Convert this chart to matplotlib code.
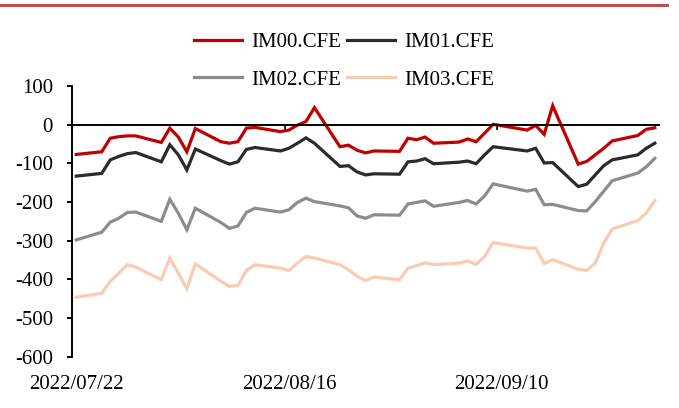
import numpy as np
import pandas as pd
import matplotlib
matplotlib.use("Agg")
import matplotlib.pyplot as plt
from matplotlib.lines import Line2D

plt.rcParams["font.family"] = ["Liberation Serif", "DejaVu Serif"]
plt.rcParams["axes.unicode_minus"] = False

# trading days, 2022/07/22 - 2022/09/28
dates = ["2022-07-22", "2022-07-25", "2022-07-26", "2022-07-27", "2022-07-28", "2022-07-29",
         "2022-08-01", "2022-08-02", "2022-08-03", "2022-08-04", "2022-08-05",
         "2022-08-08", "2022-08-09", "2022-08-10", "2022-08-11", "2022-08-12",
         "2022-08-15", "2022-08-16", "2022-08-17", "2022-08-18", "2022-08-19",
         "2022-08-22", "2022-08-23", "2022-08-24", "2022-08-25", "2022-08-26",
         "2022-08-29", "2022-08-30", "2022-08-31", "2022-09-01", "2022-09-02",
         "2022-09-05", "2022-09-06", "2022-09-07", "2022-09-08", "2022-09-09",
         "2022-09-13", "2022-09-14", "2022-09-15", "2022-09-16",
         "2022-09-19", "2022-09-20", "2022-09-21", "2022-09-22", "2022-09-23",
         "2022-09-26", "2022-09-27", "2022-09-28"]

im00 = [-77, -70, -35, -31, -29, -29, -46, -9, -32, -70, -10, -44, -48, -44, -9, -7,
        -18, -14, -1, 8, 44, -57, -53, -66, -73, -68, -69, -35, -39, -32, -48,
        -45, -37, -44, -22, 1, -14, -2, -25, 49, -102, -95, -78, -61, -42, -28, -12, -8]
im01 = [-133, -126, -91, -82, -75, -72, -96, -52, -78, -117, -63, -93, -102, -96, -64, -59,
        -68, -61, -48, -34, -48, -108, -106, -122, -130, -127, -128, -96, -94, -88, -101,
        -97, -94, -101, -78, -57, -68, -61, -99, -98, -160, -154, -130, -106, -91, -78, -61, -48]
im02 = [-298, -278, -252, -242, -227, -226, -250, -193, -229, -272, -216, -253, -268, -262, -227, -216,
        -226, -220, -201, -190, -199, -210, -215, -236, -242, -233, -234, -205, -201, -197, -211,
        -201, -196, -205, -184, -153, -172, -167, -207, -206, -222, -223, -199, -172, -145, -125, -109, -87]
im03 = [-446, -436, -405, -384, -362, -368, -401, -345, -384, -424, -360, -405, -418, -416, -377, -362,
        -371, -377, -358, -341, -345, -362, -375, -392, -403, -394, -401, -371, -365, -357, -362,
        -358, -352, -362, -341, -305, -319, -319, -359, -349, -374, -377, -358, -306, -270, -248, -229, -196]

names = ["IM00.CFE", "IM01.CFE", "IM02.CFE", "IM03.CFE"]
colors = ["#C00000", "#2B2B2B", "#8C8C8C", "#F9CBB3"]
tick_dates = ["2022-07-22", "2022-08-16", "2022-09-10"]
tick_labels = ["2022/07/22", "2022/08/16", "2022/09/10"]

x = pd.to_datetime(dates) + pd.Timedelta(hours=12)   # points sit mid-day like Excel date axis
ticks = pd.to_datetime(tick_dates)

fig = plt.figure(figsize=(6.79, 4.08), dpi=100)
ax = fig.add_axes([0.106, 0.1257, 0.8646, 0.6635])

lines = []
for vals, name, c in zip([im00, im01, im02, im03], names, colors):
    ln, = ax.plot(x, vals, color=c, lw=2.3, label=name, solid_joinstyle="miter")
    lines.append(ln)

ax.set_ylim(-600, 100)
ax.set_yticks(np.arange(-600, 101, 100))
ax.set_xlim(pd.Timestamp("2022-07-22"), pd.Timestamp("2022-09-29"))

for s in ["top", "right"]:
    ax.spines[s].set_visible(False)
ax.spines["bottom"].set_position(("data", 0))
ax.spines["left"].set_linewidth(1.4)
ax.spines["bottom"].set_linewidth(1.4)
ax.set_xticks(ticks)
ax.tick_params(axis="x", direction="out", length=3.5, width=1.2, labelbottom=False)
ax.tick_params(axis="y", direction="out", length=3.6, width=1.4, pad=10, labelsize=15)

sec = ax.secondary_xaxis("bottom")
sec.set_xticks(ticks + pd.Timedelta(hours=12), tick_labels)
sec.spines["bottom"].set_visible(False)
sec.tick_params(length=0, pad=13, labelsize=15)

# legend filled row by row: IM00 IM01 / IM02 IM03
order = [0, 2, 1, 3]
fig.legend([lines[i] for i in order], [names[i] for i in order],
           loc="center", bbox_to_anchor=(0.507, 0.85), ncol=2, frameon=False,
           fontsize=15, handlelength=2.3, handletextpad=0.45, columnspacing=0.3,
           labelspacing=0.85, borderpad=0)

# thin report-style rule at the top
fig.add_artist(Line2D([0.0, 0.983], [0.988, 0.988], color="#C0504D", lw=2.2,
                      transform=fig.transFigure))

fig.savefig("out.png", dpi=100)
